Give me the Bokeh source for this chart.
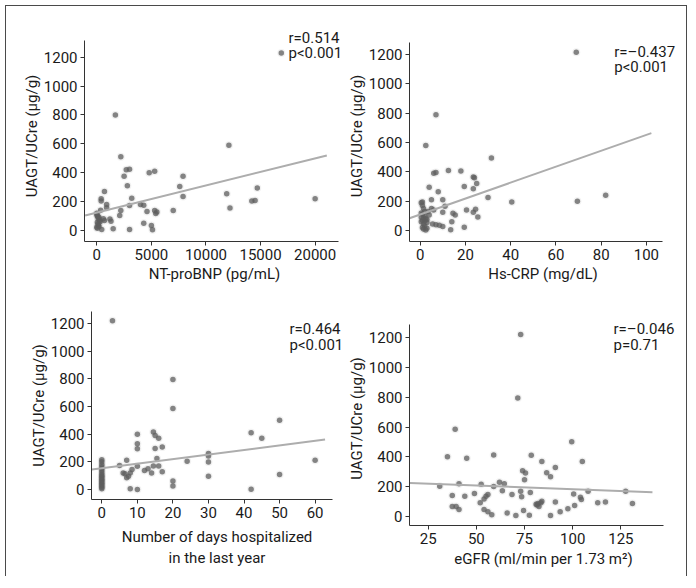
from bokeh.plotting import figure
from bokeh.layouts import row, column
from bokeh.models import Range1d, FixedTicker, Label
from bokeh.embed import file_html
from bokeh.resources import INLINE

# ---------------- data ----------------
y_ticks = [0, 200, 400, 600, 800, 1000, 1200]
y_label = "UAGT/UCre (µg/g)"

bnp_ticks = [0, 5000, 10000, 15000, 20000]
bnp_x = [16900, 1700, 2200, 12100, 2700, 3000, 2500, 4800, 5300, 7900, 7600, 2800, 7900,
         11900, 14700, 12200, 14200, 14500, 20000, 700, 400, 400, 900, 900, 3200, 3000,
         4000, 4300, 2200, 2100, 4600, 5300, 5500, 5400, 7000, 4300, 5000, 5100, 3000,
         1500, 1200, 1300, 450, 0, 100, 250, 50, 150, 0, 700, 600, 0, 50, 200, 150, 300,
         100, 200, 50, 350]
bnp_y = [1230, 800, 510, 590, 420, 425, 375, 400, 410, 375, 305, 310, 235,
         255, 295, 155, 205, 208, 220, 270, 220, 205, 180, 157, 224, 173,
         180, 175, 138, 104, 131, 138, 128, 117, 138, 50, 35, 5, 7,
         12, 80, 64, 7, 110, 95, 70, 57, 35, 23, 70, 82, 120, 100, 90, 80, 60,
         45, 28, 15, 140]
bnp_fit_x = [-1070, 21070]
bnp_fit_y = [104, 520]
bnp_stats = ["r=0.514", "p<0.001"]

crp_ticks = [0, 20, 40, 60, 80, 100]
crp_x = [69, 7, 2.5, 31.5, 6, 7, 12.5, 18, 23.5, 24, 25, 19.5, 23.5, 4, 8, 30, 40.5, 69.5,
         82, 1, 5, 10, 11, 10, 14.5, 15.5, 20.5, 23.5, 24.5, 25.5, 5, 6, 5.5, 7, 8.5, 10,
         14, 13.5, 19.5, 2.5, 1.5, 0.5, 1, 1.5, 2, 0.5, 1, 2, 0.5, 1.5, 2.5, 3, 1, 2, 0.5,
         3, 1.5, 2, 1, 3, 4, 3.5]
crp_y = [1215, 790, 580, 495, 390, 395, 410, 405, 365, 360, 320, 300, 285, 295, 265, 225,
         195, 200, 240, 195, 210, 210, 165, 125, 118, 105, 140, 125, 145, 92, 150, 140,
         45, 40, 35, 28, 60, 5, 22, 3, 10, 190, 170, 150, 130, 120, 110, 100, 90, 85, 80,
         75, 70, 65, 60, 55, 45, 30, 20, 15, 105, 130]
crp_fit_x = [-4.7, 102.2]
crp_fit_y = [84, 664]
crp_stats = ["r=\u20130.437", "p<0.001"]

days_ticks = [0, 10, 20, 30, 40, 50, 60]
days_x = [3, 20, 20, 50, 10, 10, 10, 10, 10, 14.5, 15, 16, 15, 17, 15.5, 14.5, 16, 17, 42,
          45, 50, 60, 30, 30, 30, 30, 24, 20, 20, 42, 5, 6, 6.5, 7, 7, 7.5, 8, 8, 12, 13,
          14, 8.5, 0, 0, 0, 0, 0, 0, 0, 0, 0, 0, 0, 0, 0, 0, 0, 0, 0, 0]
days_y = [1220, 795, 585, 500, 400, 330, 294, 169, 0, 415, 390, 370, 296, 308, 224, 170,
          170, 128, 410, 370, 108, 212, 260, 243, 198, 96, 205, 62, 25, 2, 173, 120, 113,
          212, 85, 95, 120, 5, 137, 150, 120, 145, 215, 200, 180, 165, 150, 135, 120, 105,
          95, 85, 75, 65, 55, 45, 35, 25, 15, 5]
days_fit_x = [-2.8, 62.8]
days_fit_y = [145, 361]
days_stats = ["r=0.464", "p<0.001"]

egfr_ticks = [25, 50, 75, 100, 125]
egfr_x = [73, 71.5, 39, 99.5, 35, 45, 59, 78.5, 84, 105, 91, 86.5, 88.5, 74, 75.5, 75, 31,
          41, 52.5, 59, 62, 64.5, 63.5, 68.5, 73, 73.5, 78, 37.5, 44, 49, 54, 55, 56, 52,
          54, 56, 37.5, 39.5, 41, 58, 66, 70.5, 74.5, 77.5, 81, 82, 83.5, 84, 82.5, 81.5,
          88.5, 91, 93.5, 97.5, 101, 100.5, 104, 104.5, 108, 113, 117, 127.5, 131]
egfr_y = [1222, 795, 585, 500, 400, 390, 412, 410, 368, 368, 327, 292, 265, 305, 290, 245,
          202, 218, 215, 200, 228, 218, 172, 146, 168, 130, 160, 139, 135, 153, 115, 135,
          146, 90, 45, 30, 65, 65, 45, 10, 22, 4, 38, 7, 80, 85, 90, 100, 65, 75, 4, 95,
          30, 50, 72, 150, 128, 112, 168, 90, 95, 168, 85]
egfr_fit_x = [15.5, 141.4]
egfr_fit_y = [224, 161]
egfr_stats = ["r=\u20130.046", "p=0.71"]

# ---------------- styling ----------------
FONT = "Roboto"
FS = "15px"
TXT = "#1a1a1a"


def panel(xs, ys, fx, fy, xticks, xlabel, stats, xr, xbound, yr, ybound, stat_pos,
          fw, fh, bl, br, bt, bb, xl_standoff=3):
    p = figure(frame_width=fw, frame_height=fh, output_backend="svg",
               toolbar_location=None,
               x_range=Range1d(*xr), y_range=Range1d(*yr),
               min_border_left=bl, min_border_right=br,
               min_border_top=bt, min_border_bottom=bb)
    p.outline_line_color = None
    p.grid.visible = False
    p.background_fill_color = "white"
    p.border_fill_color = "white"
    for ax in (p.xaxis[0], p.yaxis[0]):
        ax.axis_line_color = "#333333"
        ax.major_tick_line_color = "#333333"
        ax.major_tick_out = 4
        ax.major_tick_in = 0
        ax.minor_tick_line_color = None
        ax.major_label_text_font = FONT
        ax.major_label_text_font_size = FS
        ax.major_label_text_color = TXT
        ax.axis_label_text_font = FONT
        ax.axis_label_text_font_size = FS
        ax.axis_label_text_font_style = "normal"
        ax.axis_label_text_color = TXT
        ax.major_label_standoff = 3
    p.xaxis.ticker = FixedTicker(ticks=xticks)
    p.yaxis.ticker = FixedTicker(ticks=y_ticks)
    p.xaxis.bounds = (xr[0], xbound)
    p.yaxis.bounds = (yr[0], ybound)
    p.xaxis.axis_label = xlabel
    p.yaxis.axis_label = y_label
    p.xaxis.axis_label_standoff = xl_standoff
    p.yaxis.axis_label_standoff = 0

    p.scatter(xs, ys, size=8, color="#888888", alpha=0.12, line_color=None)
    p.scatter(xs, ys, size=5.5, color="#5e5e5e", alpha=0.75, line_color=None)
    p.line(fx, fy, line_color="#adadad", line_width=2)

    (sx, sy1, sy2) = stat_pos
    for t, yy in zip(stats, (sy1, sy2)):
        p.add_layout(Label(x=sx, y=yy, text=t, text_font=FONT, text_font_size=FS,
                           text_color=TXT, text_baseline="middle", text_align="left"))
    return p


p1 = panel(bnp_x, bnp_y, bnp_fit_x, bnp_fit_y, bnp_ticks, "NT-proBNP (pg/mL)", bnp_stats,
           (-1127, 22690), 22140, (-76.2, 1385), 1316, (17560, 1336, 1226),
           260, 211, 78, 0, 24, 47, xl_standoff=2)
p2 = panel(crp_x, crp_y, crp_fit_x, crp_fit_y, crp_ticks, "Hs-CRP (mg/dL)", crp_stats,
           (-4.7, 113.3), 107, (-75, 1364), 1284, (85.8, 1220, 1118),
           267, 211, 65, 6, 24, 47, xl_standoff=2)
p3 = panel(days_x, days_y, days_fit_x, days_fit_y, days_ticks,
           "Number of days hospitalized\nin the last year", days_stats,
           (-2.9, 67.7), 64.9, (-72.3, 1287), 1287, (52.8, 1164, 1048),
           251, 188, 85, 2, 23, 77, xl_standoff=7)
p4 = panel(egfr_x, egfr_y, egfr_fit_x, egfr_fit_y, egfr_ticks,
           "eGFR (ml/min per 1.73 m\u00b2)", egfr_stats,
           (15.3, 154.4), 147.1, (-62.6, 1377), 1289, (121.2, 1262, 1155),
           268, 214, 61, 9, 23, 51)

layout = column(row(p1, p2), row(p3, p4),
                styles={"position": "relative", "left": "5px", "top": "5px",
                        "border": "1px solid #4a4a4a", "border-bottom": "none"})

open("out.html", "w").write(file_html(layout, INLINE))
